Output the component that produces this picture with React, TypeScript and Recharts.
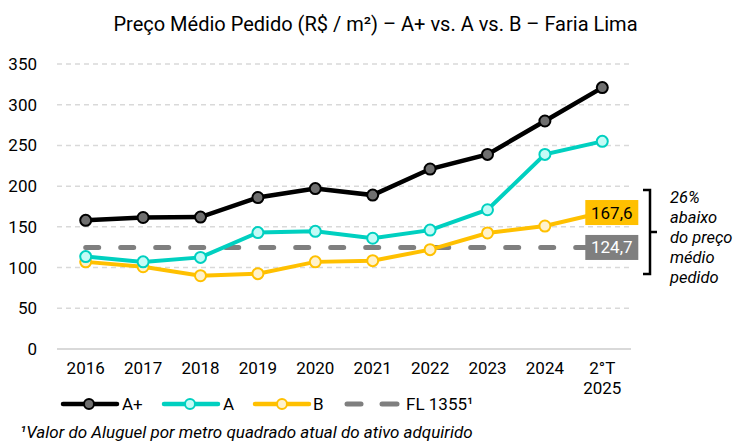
import { LineChart, Line, XAxis, YAxis, CartesianGrid, LabelList } from 'recharts';

const periods = ['2016', '2017', '2018', '2019', '2020', '2021', '2022', '2023', '2024', '2°T\n2025'];
const aPlus = [158, 161.5, 162, 186, 197, 189, 221, 239, 280, 321];
const aClass = [113.5, 107, 112.5, 143, 144.5, 136, 146, 171, 239, 255];
const bClass = [107, 101, 90, 92.5, 107, 108.5, 122, 142.5, 151, 167.6];
const fl1355 = [124.7, 124.7, 124.7, 124.7, 124.7, 124.7, 124.7, 124.7, 124.7, 124.7];
const yTicks = [0, 50, 100, 150, 200, 250, 300, 350];
const noteLines = ['26%', 'abaixo', 'do preço', 'médio', 'pedido'];

const data = periods.map((p, i) => ({
  period: p,
  aPlus: aPlus[i],
  a: aClass[i],
  b: bClass[i],
  fl: fl1355[i],
}));

const FONT = 'Roboto, sans-serif';
const fmt = (v: number) => v.toFixed(1).replace('.', ',');

function XTick({ x, y, payload }: any) {
  const lines = String(payload.value).split('\n');
  return (
    <text x={x} y={y} textAnchor="middle" fontSize={17} fill="#000" fontFamily={FONT}>
      {lines.map((l, i) => (
        <tspan key={i} x={x} dy={i === 0 ? 17 : 20}>
          {l}
        </tspan>
      ))}
    </text>
  );
}

// box label drawn only on the last point
function endBox(bg: string, color: string) {
  return (props: any) => {
    const { x, y, value, index } = props;
    if (index !== periods.length - 1) return null;
    return (
      <g>
        <rect x={x - 17} y={y - 12.5} width={53} height={25} fill={bg} />
        <text x={x + 9.5} y={y + 6} textAnchor="middle" fontSize={17} fill={color} fontFamily={FONT}>
          {fmt(value)}
        </text>
      </g>
    );
  };
}

export default function App() {
  return (
    <div style={{ position: 'absolute', left: 0, top: 0, width: 751, height: 446, background: '#fff', fontFamily: FONT }}>
      <div style={{ position: 'absolute', top: 12, left: 0, width: 751, textAlign: 'center', fontSize: 20, color: '#000' }}>
        Preço Médio Pedido (R$ / m²) – A+ vs. A vs. B – Faria Lima
      </div>
      <LineChart width={751} height={446} data={data} margin={{ top: 64, right: 120, left: 0, bottom: 52 }}>
        <CartesianGrid vertical={false} stroke="#D9D9D9" strokeDasharray="5 4" strokeWidth={1.5} />
        <XAxis
          dataKey="period"
          interval={0}
          padding={{ left: 28.7, right: 28.7 }}
          tickLine={false}
          axisLine={{ stroke: '#D9D9D9', strokeWidth: 2 }}
          tick={<XTick />}
          height={45}
        />
        <YAxis
          domain={[0, 350]}
          ticks={yTicks}
          width={57}
          axisLine={false}
          tickLine={false}
          tick={{ fontSize: 17, fill: '#000', fontFamily: FONT }}
          tickMargin={14}
        />
        <Line
          dataKey="fl"
          stroke="#7F7F7F"
          strokeWidth={5}
          strokeDasharray="13 22"
          strokeLinecap="round"
          dot={false}
          isAnimationActive={false}
        >
          <LabelList dataKey="fl" content={endBox('#7F7F7F', '#fff')} />
        </Line>
        <Line
          dataKey="b"
          stroke="#FFC000"
          strokeWidth={4}
          dot={{ r: 5.5, fill: '#FFF2CC', stroke: '#FFC000', strokeWidth: 2 }}
          isAnimationActive={false}
        >
          <LabelList dataKey="b" content={endBox('#FFC000', '#000')} />
        </Line>
        <Line
          dataKey="a"
          stroke="#00D0C0"
          strokeWidth={4}
          dot={{ r: 5.5, fill: '#C4FBF6', stroke: '#00D0C0', strokeWidth: 2 }}
          isAnimationActive={false}
        />
        <Line
          dataKey="aPlus"
          stroke="#000"
          strokeWidth={4.5}
          dot={{ r: 5.5, fill: '#6F6F6F', stroke: '#000', strokeWidth: 2 }}
          isAnimationActive={false}
        />
      </LineChart>
      <svg width={751} height={446} style={{ position: 'absolute', left: 0, top: 0, pointerEvents: 'none' }}>
        {/* bracket + note */}
        <path d="M643 190 H650 V274 H643 M650 232 H657" fill="none" stroke="#000" strokeWidth={2.5} />
        {noteLines.map((t, i) => (
          <text key={t} x={670} y={203 + i * 20} fontSize={16.5} fontStyle="italic" fill="#000" fontFamily={FONT}>
            {t}
          </text>
        ))}
        {/* legend */}
        <g fontSize={17} fill="#000" fontFamily={FONT}>
          <line x1={63} y1={404} x2={117} y2={404} stroke="#000" strokeWidth={4.5} strokeLinecap="round" />
          <circle cx={89} cy={404} r={5} fill="#6F6F6F" stroke="#000" strokeWidth={2} />
          <text x={122} y={410}>A+</text>
          <line x1={164} y1={404} x2={218} y2={404} stroke="#00D0C0" strokeWidth={4.5} strokeLinecap="round" />
          <circle cx={190} cy={404} r={5} fill="#C4FBF6" stroke="#00D0C0" strokeWidth={2} />
          <text x={223} y={410}>A</text>
          <line x1={255} y1={404} x2={309} y2={404} stroke="#FFC000" strokeWidth={4.5} strokeLinecap="round" />
          <circle cx={282} cy={404} r={5} fill="#FFF2CC" stroke="#FFC000" strokeWidth={2} />
          <text x={313} y={410}>B</text>
          <line x1={347} y1={404} x2={361} y2={404} stroke="#7F7F7F" strokeWidth={5} strokeLinecap="round" />
          <line x1={382} y1={404} x2={397} y2={404} stroke="#7F7F7F" strokeWidth={5} strokeLinecap="round" />
          <text x={406} y={410}>FL 1355¹</text>
        </g>
        <text x={20} y={438} fontSize={17} fontStyle="italic" fill="#000" fontFamily={FONT}>
          ¹Valor do Aluguel por metro quadrado atual do ativo adquirido
        </text>
      </svg>
    </div>
  );
}
